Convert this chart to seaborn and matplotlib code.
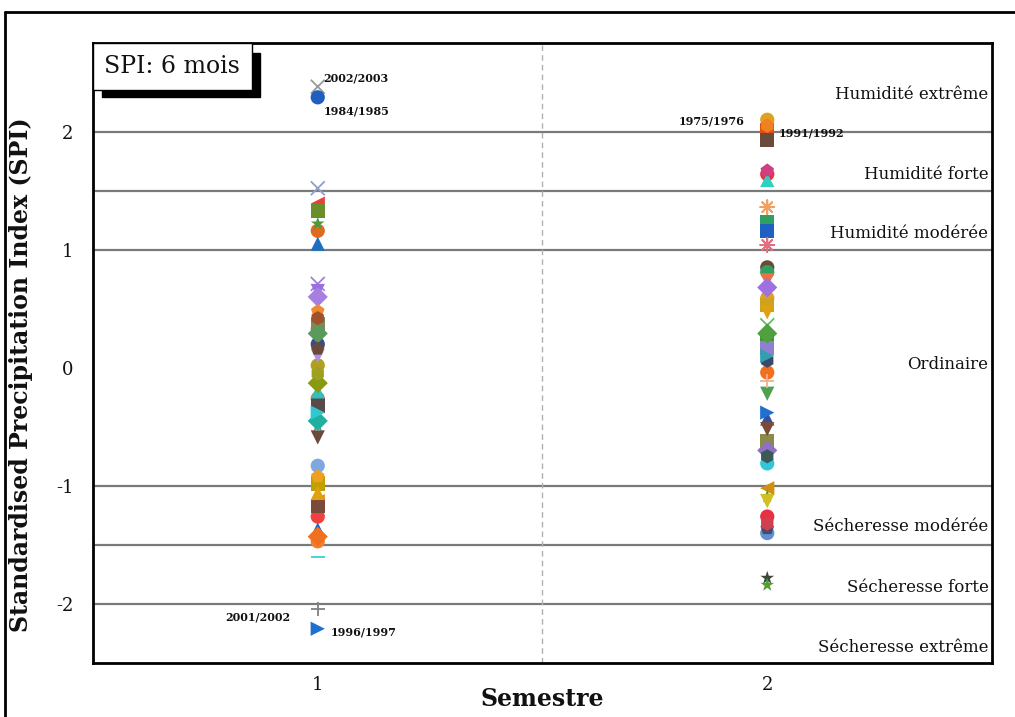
import numpy as np
import pandas as pd
import matplotlib
matplotlib.use("Agg")
import matplotlib.pyplot as plt
from matplotlib.lines import Line2D
from matplotlib.patches import Rectangle
import seaborn as sns

# ---------------- data ----------------
semestres = [1, 2]
spi_sem1 = [2.38, 2.29, 1.52, 1.39, 1.33, 1.22, 1.16, 1.05, 0.71, 0.65, 0.60,
            0.48, 0.42, 0.37, 0.33, 0.29, 0.20, 0.16, 0.10, 0.02, -0.05, -0.13,
            -0.20, -0.26, -0.32, -0.38, -0.45, -0.49, -0.59, -0.83, -0.92, -0.98,
            -1.06, -1.13, -1.17, -1.26, -1.37, -1.43, -1.47, -1.60, -2.04, -2.21]
spi_sem2 = [2.10, 2.05, 2.01, 1.93, 1.67, 1.64, 1.59, 1.36, 1.23, 1.16, 1.04,
            0.85, 0.81, 0.74, 0.68, 0.59, 0.53, 0.47, 0.36, 0.29, 0.23, 0.17,
            0.10, 0.06, -0.04, -0.11, -0.22, -0.38, -0.43, -0.52, -0.62, -0.70,
            -0.75, -0.81, -1.02, -1.09, -1.13, -1.26, -1.32, -1.36, -1.40, -1.78,
            -1.84]
# annotated years: (semestre, index in series, label)
annot_sem = [1, 1, 1, 1, 2, 2]
annot_idx = [0, 1, 40, 41, 0, 2]
annot_txt = ["2002/2003", "1984/1985", "2001/2002", "1996/1997", "1975/1976", "1991/1992"]

class_labels = ["Humidité extrême", "Humidité forte", "Humidité modérée", "Ordinaire",
                "Sécheresse modérée", "Sécheresse forte", "Sécheresse extrême"]
thresholds = [-2, -1.5, -1, 1, 1.5, 2]
y_ticks = [-2, -1, 0, 1, 2]

# ---------------- styles ----------------
AST = (8, 2, 0)
mk1 = ['x', 'o', 'x', '<', 's', '*', 'o', '^', 'x', 'v', 'D',
       'p', 'h', 's', 'o', 'D', 'o', 'p', 'v', 'o', 'h', 'D',
       '^', 'o', 's', '>', 'D', '*', 'v', 'o', 'p', 's',
       '^', '<', 's', 'o', '^', 'D', 'o', '_', '+', '>']
col1 = ['#9a9a9a', '#1f5fbf', '#8fa0c8', '#e8403a', '#6a8f2a', '#4a9a3a', '#e06a20', '#1f6fbf',
        '#a080e0', '#9c6ee0', '#a67fe0', '#f08a30', '#a0522d', '#7a8a5a', '#c06080', '#5a9a5a',
        '#3a4a8a', '#6a4a3a', '#b090e0', '#b0a020', '#a0a020', '#8a9a10', '#30c0c0', '#f07020',
        '#5a4a4a', '#30c8d0', '#20b0a0', '#30a090', '#6a4a3a', '#80a8e0', '#f0a020', '#c0a000',
        '#e0a010', '#f08020', '#7a4a3a', '#f04040', '#2060c0', '#f07020', '#f08030', '#40d0d0',
        '#808080', '#1f6fd0']
mk2 = ['o', 'h', 's', 's', 'p', 'o', '^', AST, 's', 's', AST,
       'o', 'o', 'v', 'D', 'o', 's', 'v', 'x', 'D', 's', 's',
       '>', 'h', 'o', '+', 'v', '>', '^', 'v', 's', 'D',
       'h', 'o', '<', '*', 'v', 'o', 'h', 'p', 'o', '*', '*']
col2 = ['#e0a020', '#f08020', '#e05010', '#6a4a3a', '#d04080', '#e83040', '#30d0c0', '#f0a060',
        '#30a060', '#2060c0', '#e07080', '#6a4a3a', '#30a060', '#f07040', '#a070e0', '#e0a020',
        '#d0a020', '#e0a010', '#60c060', '#50a040', '#3a9a3a', '#9080d0', '#30a0b0', '#3a4a6a',
        '#f07020', '#f0b090', '#50a050', '#2070d0', '#3050a0', '#7a4a3a', '#8a8a4a', '#9070c0',
        '#3a5a5a', '#30c8d8', '#d09010', '#50a030', '#d0c020', '#e83040', '#d04050', '#4a4a6a',
        '#6090d0', '#3a4a3a', '#50a030']

rows = []
for sem, vals, mks, cols in [(1, spi_sem1, mk1, col1), (2, spi_sem2, mk2, col2)]:
    for i, v in enumerate(vals):
        rows.append({"Semestre": sem, "SPI": v, "id": f"{sem}-{i}",
                     "marker": str(mks[i]), "mobj": mks[i], "color": cols[i]})
df = pd.DataFrame(rows)

# ---------------- figure ----------------
sns.set_theme(style="white")
plt.rcParams['font.family'] = ['DejaVu Serif']

fig = plt.figure(figsize=(10.15, 7.17), dpi=100)
ax = fig.add_axes([93 / 1015, 1 - 663 / 717, (992 - 93) / 1015, (663 - 43) / 717])

# reference lines
for t in thresholds:
    ax.axhline(t, color='#7a7a7a', lw=1.6, zorder=1)
ax.axvline(1.5, color='#b0b0b0', lw=1, ls=(0, (4, 3)), zorder=1)

palette = dict(zip(df["id"], df["color"]))
for mkey, sub in df.groupby("marker", sort=False):
    m = sub["mobj"].iloc[0]
    filled = m not in ('x', '+', '_', AST)
    sns.scatterplot(data=sub, x="Semestre", y="SPI", hue="id", palette=palette,
                    marker=m, s=105 if filled else 100, legend=False, ax=ax,
                    linewidth=0.3 if filled else 1.3,
                    edgecolor=None if not filled else 'none', zorder=3)

# annotations
series = {1: spi_sem1, 2: spi_sem2}
offsets = {"2002/2003": (4, 6, 'left'), "1984/1985": (4, -10, 'left'),
           "2001/2002": (-20, -6, 'right'), "1996/1997": (9, -2, 'left'),
           "1975/1976": (-16, -1, 'right'), "1991/1992": (8, -2, 'left')}
for sem, idx, txt in zip(annot_sem, annot_idx, annot_txt):
    dx, dy, ha = offsets[txt]
    ax.annotate(txt, (sem, series[sem][idx]), xytext=(dx, dy), textcoords='offset points',
                ha=ha, va='center', fontsize=8, fontweight='bold', color='#111111', zorder=5)

# class labels on the right
label_y = [2.31, 1.64, 1.14, 0.03, -1.34, -1.86, -2.37]
for lab, yy in zip(class_labels, label_y):
    ax.text(0.996, yy, lab, transform=ax.get_yaxis_transform(), ha='right', va='center',
            fontsize=12, color='#111111', zorder=5)

# axes
ax.set_xlim(0.5, 2.5)
ax.set_ylim(-2.5, 2.75)
ax.set_yticks(y_ticks)
ax.set_yticklabels([f"{t:d}" for t in y_ticks], fontsize=13, color='#111111')
ax.set_xticks([0.5, 1.5, 2.5])
ax.set_xticklabels([])
ax.set_xticks(semestres, minor=True)
ax.set_xticklabels([str(s) for s in semestres], minor=True, fontsize=13, color='#111111')
ax.tick_params(axis='x', which='major', direction='out', length=6, width=1.5, color='black')
ax.tick_params(axis='x', which='minor', length=0, pad=9)
ax.tick_params(axis='y', direction='out', length=6, width=1.5, color='black', pad=8)
for sp in ax.spines.values():
    sp.set_visible(True)
    sp.set_color('black')
    sp.set_linewidth(2)

ax.set_xlabel("Semestre", fontsize=17, fontweight='bold', color='#111111')
ax.set_ylabel("Standardised Precipitation Index (SPI)", fontsize=17, fontweight='bold',
              color='#111111')
ax.xaxis.set_label_coords(0.5, -0.038)
ax.yaxis.set_label_coords(-0.067, 0.465)

# "SPI: 6 mois" box with shadow
ax.add_patch(Rectangle((0.010, 0.913), 0.176, 0.071, transform=ax.transAxes,
                       facecolor='black', edgecolor='black', zorder=6, clip_on=False))
ax.add_patch(Rectangle((0.0, 0.924), 0.177, 0.076, transform=ax.transAxes,
                       facecolor='white', edgecolor='black', lw=1, zorder=7, clip_on=False))
ax.text(0.088, 0.962, "SPI: 6 mois", transform=ax.transAxes, ha='center', va='center',
        fontsize=17, color='#111111', zorder=8)

# outer frame (top and left visible)
fig.add_artist(Line2D([5 / 1015, 1.0], [1 - 12 / 717, 1 - 12 / 717], color='black', lw=2,
                      transform=fig.transFigure))
fig.add_artist(Line2D([5 / 1015, 5 / 1015], [0, 1 - 12 / 717], color='black', lw=2,
                      transform=fig.transFigure))

fig.savefig("out.png", dpi=100)
